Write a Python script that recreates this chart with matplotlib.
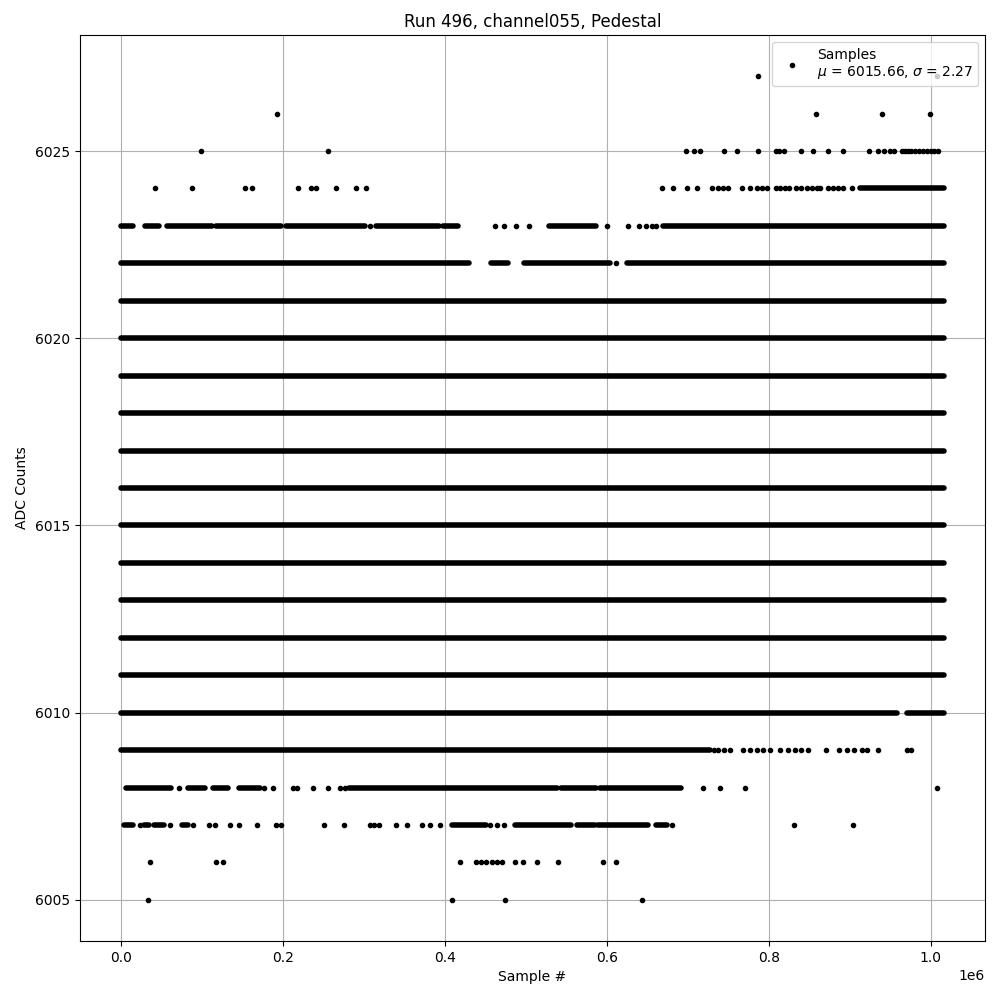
import numpy as np
import matplotlib
matplotlib.use('Agg')
import matplotlib.pyplot as plt

# ── Data (x in units of 1e6 samples) ──────────────────────────────────────────

MU, SIGMA = 6015.66, 2.27
X_END = 1.016   # last sample index / 1e6

# levels that are continuous bands over the full run
full_levels = list(range(6011, 6022))

# level -> runs of densely packed samples (start, end)
dense_runs = {
    6024: [(0.912, X_END)],
    6023: [(0.000, 0.015), (0.030, 0.047), (0.057, 0.112), (0.117, 0.198),
           (0.203, 0.301), (0.315, 0.392), (0.398, 0.416), (0.528, 0.587),
           (0.669, X_END)],
    6022: [(0.000, 0.430), (0.457, 0.478), (0.497, 0.604), (0.625, X_END)],
    6010: [(0.000, 0.958), (0.971, X_END)],
    6009: [(0.000, 0.727)],
    6008: [(0.006, 0.062), (0.083, 0.104), (0.114, 0.132), (0.146, 0.171),
           (0.281, 0.538), (0.543, 0.587), (0.591, 0.692)],
    6007: [(0.003, 0.015), (0.028, 0.035), (0.041, 0.053), (0.075, 0.082),
           (0.408, 0.451), (0.486, 0.556), (0.563, 0.585), (0.589, 0.651),
           (0.660, 0.674)],
}

# level -> isolated samples
sparse_pts = {
    6027: [0.787, 1.007],
    6026: [0.193, 0.858, 0.940, 0.999],
    6025: [0.099, 0.256, 0.697, 0.707, 0.715, 0.745, 0.760, 0.786, 0.809,
           0.812, 0.819, 0.840, 0.855, 0.873, 0.892, 0.923, 0.935, 0.942,
           0.949, 0.955, 0.964, 0.968, 0.972, 0.976, 0.980, 0.985, 0.990,
           0.995, 1.000, 1.004, 1.009],
    6024: [0.042, 0.088, 0.153, 0.161, 0.218, 0.234, 0.241, 0.265, 0.290,
           0.303, 0.668, 0.681, 0.699, 0.711, 0.730, 0.737, 0.743, 0.749,
           0.767, 0.777, 0.785, 0.791, 0.797, 0.809, 0.814, 0.820, 0.825,
           0.834, 0.840, 0.847, 0.853, 0.859, 0.863, 0.873, 0.879, 0.885,
           0.891, 0.902],
    6023: [0.307, 0.462, 0.473, 0.488, 0.504, 0.600, 0.626, 0.639, 0.648,
           0.655, 0.661],
    6022: [0.611],
    6009: [0.732, 0.737, 0.744, 0.752, 0.768, 0.776, 0.785, 0.793, 0.801,
           0.814, 0.824, 0.832, 0.840, 0.848, 0.870, 0.886, 0.896, 0.905,
           0.915, 0.921, 0.935, 0.971, 0.976],
    6008: [0.072, 0.177, 0.187, 0.212, 0.217, 0.237, 0.256, 0.270, 0.277,
           0.719, 0.739, 0.771, 1.008],
    6007: [0.023, 0.060, 0.089, 0.109, 0.116, 0.135, 0.146, 0.168, 0.191,
           0.197, 0.251, 0.275, 0.307, 0.312, 0.319, 0.339, 0.353, 0.371,
           0.381, 0.394, 0.455, 0.464, 0.473, 0.680, 0.831, 0.904],
    6006: [0.036, 0.117, 0.126, 0.418, 0.438, 0.445, 0.451, 0.458, 0.464,
           0.470, 0.486, 0.496, 0.513, 0.540, 0.595, 0.611],
    6005: [0.033, 0.409, 0.474, 0.643],
}

# ── Plot ──────────────────────────────────────────────────────────────────────

fig, ax = plt.subplots(figsize=(10, 10), dpi=100)

runs = {lvl: [(0.0, X_END)] for lvl in full_levels}
runs.update(dense_runs)
for lvl, segs in runs.items():
    for x0, x1 in segs:
        ax.plot([x0 * 1e6, x1 * 1e6], [lvl, lvl], color='k', lw=4,
                solid_capstyle='round')

xs, ys = [], []
for lvl, pts in sparse_pts.items():
    xs += [p * 1e6 for p in pts]
    ys += [lvl] * len(pts)
ax.plot(xs, ys, 'k.', label=f"Samples\n$\\mu$ = {MU:.2f}, $\\sigma$ = {SIGMA:.2f}")

ax.set_title('Run 496, channel055, Pedestal')
ax.set_xlabel('Sample #')
ax.set_ylabel('ADC Counts')
ax.grid(True)
ax.legend(loc='upper right')

fig.subplots_adjust(left=0.080, right=0.985, top=0.965, bottom=0.059)
plt.savefig('out.png')
